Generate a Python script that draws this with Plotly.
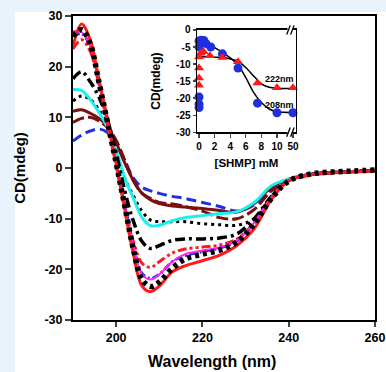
import plotly.graph_objects as go

# ---------------- main CD spectra data ----------------
wavelength = [190, 192, 194, 196, 198, 200, 202, 204, 206, 208, 210, 213, 216, 220,
              224, 228, 232, 236, 240, 245, 250, 255, 260]

red_solid = [24.0, 28.4, 25.3, 17.5, 9.5, 0.8, -8.2, -17.0, -23.3, -24.4, -23.3, -20.5, -19.3, -18.3,
             -17.2, -15.3, -12.0, -6.2, -2.5, -1.4, -1.0, -0.8, -0.6]
black_bigdot = [26.0, 27.3, 24.5, 17.0, 9.0, 1.0, -7.5, -16.0, -22.0, -23.4, -22.5, -19.8, -18.0, -17.0,
                -16.2, -14.6, -11.0, -6.0, -2.6, -1.2, -0.8, -0.6, -0.4]
magenta_solid = [27.0, 26.8, 24.0, 17.0, 9.0, 1.0, -7.5, -15.5, -21.0, -22.0, -21.0, -18.5, -17.0, -16.3,
                 -15.7, -14.3, -10.8, -5.8, -2.5, -1.3, -0.9, -0.7, -0.5]
blue_dashdot = [26.0, 26.5, 24.0, 17.2, 9.0, 1.0, -7.3, -15.2, -20.8, -21.8, -21.0, -18.5, -17.3, -16.5,
                -15.8, -14.4, -10.9, -5.9, -2.5, -1.3, -0.9, -0.7, -0.5]
red_dashdotdot = [23.5, 25.3, 23.0, 16.5, 8.5, 0.5, -7.5, -14.5, -18.8, -19.6, -18.5, -16.8, -16.0, -15.6,
                  -15.2, -14.0, -10.8, -5.8, -2.5, -1.3, -0.9, -0.7, -0.5]
black_dashdot = [17.6, 19.0, 17.0, 14.0, 9.5, 3.0, -4.5, -10.5, -14.5, -15.9, -15.3, -14.3, -14.0, -14.0,
                 -13.8, -13.0, -10.0, -5.6, -2.5, -1.3, -0.9, -0.7, -0.5]
cyan_solid = [15.5, 15.3, 13.5, 11.0, 8.0, 3.5, -2.0, -6.0, -9.8, -11.4, -11.3, -10.4, -9.8, -9.4,
              -9.0, -8.6, -6.8, -3.5, -2.2, -1.3, -0.9, -0.7, -0.5]
black_dot = [13.2, 14.2, 13.5, 11.5, 8.5, 3.5, -2.0, -5.5, -8.5, -10.3, -10.6, -10.6, -10.6, -11.0,
             -11.2, -11.3, -10.0, -5.8, -2.6, -1.3, -0.9, -0.7, -0.5]
maroon_solid = [11.2, 11.5, 10.8, 9.8, 8.2, 5.0, 1.0, -2.5, -5.0, -6.3, -7.0, -7.5, -7.7, -8.0,
                -8.4, -8.7, -7.0, -3.8, -2.2, -1.3, -0.9, -0.7, -0.5]
maroon_dash = [9.0, 9.8, 10.0, 9.3, 8.0, 5.5, 1.5, -2.5, -5.0, -6.0, -6.8, -7.1, -7.6, -8.5,
               -9.8, -10.0, -8.2, -4.5, -2.4, -1.3, -0.9, -0.7, -0.5]
blue_dash = [5.3, 6.5, 7.3, 7.7, 7.0, 5.0, 1.5, -2.0, -3.8, -4.5, -5.0, -5.6, -6.0, -6.8,
             -7.6, -8.5, -7.3, -4.2, -2.4, -1.3, -0.9, -0.7, -0.5]

x_ticks = [200, 220, 240, 260]
y_ticks = [-30, -20, -10, 0, 10, 20, 30]

# ---------------- inset data ----------------
conc_208 = [0, 0, 0, 0, 0, 0.3, 0.6, 0.9, 1.5, 3, 5, 7.5, 10, 50]
cd_208 = [-3.2, -5.0, -19.7, -21.8, -22.8, -3.0, -3.1, -4.0, -5.0, -7.0, -11.2, -21.5, -24.3, -24.3]
conc_222 = [0, 0, 0, 0, 0.2, 0.6, 1.4, 3, 5, 7.5, 10, 50]
cd_222 = [-7.9, -11.2, -14.1, -16.2, -6.8, -6.4, -7.6, -8.1, -9.3, -15.6, -17.0, -17.0]
fit_conc = [0, 1, 2, 3, 4, 5, 6, 7, 8, 9, 10, 50]
fit_208 = [-2.9, -3.8, -5.2, -6.6, -8.2, -10.3, -14.0, -18.3, -21.3, -23.2, -24.0, -24.2]
fit_222 = [-7.8, -7.9, -8.0, -8.1, -8.5, -9.2, -11.0, -13.5, -15.8, -16.8, -17.1, -17.2]
inset_x_ticks = [0, 2, 4, 6, 8, 10, 50]
inset_y_ticks = [0, -5, -10, -15, -20, -25, -30]

BREAK_POS = 12.05  # plotted position of 50 mM on the broken axis


def brk(c):
    return [v if v <= 10 else BREAK_POS for v in c]


def lbl(ticks):
    return [str(t) for t in ticks]  # plain hyphen-minus like the original


FONT = "Arial, Liberation Sans, sans-serif"
fig = go.Figure()

series = [
    (blue_dash, "#1f2fe0", 3, "10px,5px"),
    (maroon_dash, "#7a0f0f", 3, "12px,4px"),
    (maroon_solid, "#7a0f0f", 3, "solid"),
    (black_dot, "black", 3, "3px,4px"),
    (cyan_solid, "#19f0f0", 3, "solid"),
    (black_dashdot, "black", 3.5, "10px,4px,3px,4px"),
    (red_dashdotdot, "#ff1a1a", 3, "9px,3px,3px,3px,3px,3px"),
    (blue_dashdot, "#1f2fe0", 3, "7px,3px,2px,3px"),
    (magenta_solid, "#ff22ff", 2, "solid"),
    (red_solid, "#ff1a1a", 3, "solid"),
    (black_bigdot, "black", 5.5, "4px,4px"),
]
for vals, col, w, dash in series:
    fig.add_trace(go.Scatter(x=wavelength, y=vals, mode="lines",
                             line=dict(color=col, width=w, dash=dash, shape="spline", smoothing=1.0),
                             xaxis="x", yaxis="y", showlegend=False, hoverinfo="skip"))

# inset fits
fig.add_trace(go.Scatter(x=brk(fit_conc), y=fit_222, mode="lines",
                         line=dict(color="black", width=1.5, shape="spline", smoothing=0.8),
                         xaxis="x2", yaxis="y2", showlegend=False))
fig.add_trace(go.Scatter(x=brk(fit_conc), y=fit_208, mode="lines",
                         line=dict(color="black", width=1.5, shape="spline", smoothing=0.8),
                         xaxis="x2", yaxis="y2", showlegend=False))
fig.add_trace(go.Scatter(x=brk(conc_208), y=cd_208, mode="markers",
                         marker=dict(symbol="circle", size=9, color="#1f2fe0"),
                         xaxis="x2", yaxis="y2", showlegend=False, cliponaxis=False))
fig.add_trace(go.Scatter(x=brk(conc_222), y=cd_222, mode="markers",
                         marker=dict(symbol="triangle-up", size=9, color="#ff1a1a"),
                         xaxis="x2", yaxis="y2", showlegend=False, cliponaxis=False))

fig.add_annotation(x=10.26, y=-14.3, xref="x2", yref="y2", text="<b>222nm</b>", showarrow=False,
                   font=dict(family=FONT, size=9, color="black"))
fig.add_annotation(x=10.3, y=-21.9, xref="x2", yref="y2", text="<b>208nm</b>", showarrow=False,
                   font=dict(family=FONT, size=9, color="black"))

# main x-axis title (placed slightly left of centre, as in the original)
fig.add_annotation(x=0.46, y=-0.135, xref="paper", yref="paper", text="<b>Wavelength (nm)</b>",
                   showarrow=False, xanchor="center", yanchor="middle",
                   font=dict(family=FONT, size=16, color="black"))

# axis break marks on inset
for ydom in (0, 1):
    fig.add_shape(type="rect", xref="x2", yref="y2 domain", x0=11.35, x1=11.95,
                  y0=ydom - 0.03, y1=ydom + 0.03, fillcolor="white", line=dict(width=0), layer="above")
    for dx in (11.25, 11.75):
        fig.add_shape(type="line", xref="x2", yref="y2 domain", x0=dx, x1=dx + 0.45,
                      y0=ydom - 0.045, y1=ydom + 0.045, line=dict(color="black", width=1.3), layer="above")

# light-blue surround (top band and left band of the page)
fig.add_shape(type="rect", xref="paper", yref="paper", x0=-0.25, x1=1.04, y0=1.013, y1=1.1,
              fillcolor="#e8f3fc", line=dict(width=0), layer="below")
fig.add_shape(type="rect", xref="paper", yref="paper", x0=-0.25, x1=-0.192, y0=-0.2, y1=1.1,
              fillcolor="#e8f3fc", line=dict(width=0), layer="below")

fig.update_layout(
    width=386, height=372,
    margin=dict(l=73, r=11, t=16, b=52),
    paper_bgcolor="white", plot_bgcolor="white",
    font=dict(family=FONT, color="black"),
    xaxis=dict(range=[190, 260], tickvals=x_ticks, ticktext=lbl(x_ticks), ticks="outside", ticklen=5, tickwidth=2,
               showline=True, linewidth=2, linecolor="black", mirror=True, showgrid=False, zeroline=False,
               automargin=False, ticklabeloverflow="allow",
               tickfont=dict(size=12.5, family=FONT, weight="bold")),
    yaxis=dict(range=[-30, 30], tickvals=y_ticks, ticktext=lbl(y_ticks), ticks="outside", ticklen=6, tickwidth=2,
               showline=True, linewidth=2, linecolor="black", mirror=True, showgrid=False, zeroline=False,
               automargin=False, ticklabeloverflow="allow",
               tickfont=dict(size=12.5, family=FONT, weight="bold"),
               title=dict(text="<b>CD(mdeg)</b>", font=dict(size=15, family=FONT), standoff=15)),
    xaxis2=dict(domain=[0.4106, 0.7384], anchor="y2", range=[-0.26, 12.44],
                tickvals=brk(inset_x_ticks), ticktext=lbl(inset_x_ticks),
                ticks="outside", ticklen=4, tickwidth=1.2, automargin=False,
                showline=True, linewidth=1.5, linecolor="black", mirror=True, showgrid=False, zeroline=False,
                tickfont=dict(size=10, family=FONT, weight="bold"),
                title=dict(text="<b>[SHMP] mM</b>", font=dict(size=11.5, family=FONT), standoff=8)),
    yaxis2=dict(domain=[0.618, 0.954], anchor="x2", range=[-30, 0], tickvals=inset_y_ticks,
                ticktext=lbl(inset_y_ticks), automargin=False,
                ticks="outside", ticklen=3, tickwidth=1.2,
                showline=True, linewidth=1.5, linecolor="black", mirror=True, showgrid=False, zeroline=False,
                tickfont=dict(size=10, family=FONT, weight="bold"),
                title=dict(text="<b>CD(mdeg)</b>", font=dict(size=12, family=FONT), standoff=13)),
)

fig.write_html(
    "out.html",
    config={"displayModeBar": False, "staticPlot": True},
    post_script=("document.body.style.margin='0px';"
                 "document.body.style.overflow='hidden';"
                 "document.body.style.background='white';"
                 "document.documentElement.style.overflow='hidden';"),
)
